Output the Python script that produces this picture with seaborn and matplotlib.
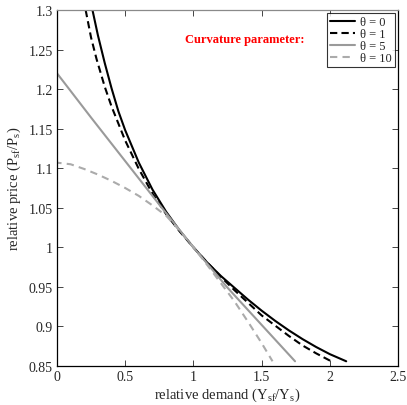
import numpy as np
import pandas as pd
import seaborn as sns
import matplotlib.pyplot as plt

# curves: relative demand (x) vs relative price (y)
x_t0 = [0.26, 0.30, 0.35, 0.40, 0.45, 0.50, 0.60, 0.70, 0.80, 0.90, 1.00,
        1.10, 1.20, 1.30, 1.40, 1.50, 1.60, 1.70, 1.80, 1.90, 2.00, 2.12]
y_t0 = [1.300, 1.268, 1.233, 1.201, 1.172, 1.148, 1.107, 1.073, 1.045, 1.021, 1.000,
        0.981, 0.964, 0.949, 0.934, 0.920, 0.907, 0.895, 0.884, 0.874, 0.865, 0.856]

x_t1 = [0.21, 0.25, 0.29, 0.35, 0.40, 0.50, 0.60, 0.70, 0.80, 0.90, 1.00,
        1.10, 1.20, 1.30, 1.40, 1.50, 1.60, 1.70, 1.80, 1.90, 2.01]
y_t1 = [1.300, 1.265, 1.238, 1.203, 1.178, 1.135, 1.099, 1.068, 1.042, 1.020, 1.000,
        0.981, 0.963, 0.946, 0.930, 0.914, 0.901, 0.888, 0.876, 0.866, 0.856]

x_t5 = [0.0, 0.0, 0.25, 0.50, 0.75, 1.00, 1.25, 1.50, 1.745]
y_t5 = [1.300, 1.220, 1.164, 1.109, 1.054, 1.000, 0.949, 0.902, 0.856]

x_t10 = [0.0, 0.0, 0.10, 0.20, 0.30, 0.40, 0.50, 0.60, 0.70, 0.80, 0.90, 1.00,
         1.10, 1.20, 1.30, 1.40, 1.50, 1.58]
y_t10 = [1.300, 1.107, 1.105, 1.099, 1.092, 1.084, 1.075, 1.065, 1.053, 1.040, 1.021, 1.000,
         0.978, 0.955, 0.932, 0.906, 0.879, 0.856]

labels = ['θ = 0', 'θ = 1', 'θ = 5', 'θ = 10']
xs = [x_t0, x_t1, x_t5, x_t10]
ys = [y_t0, y_t1, y_t5, y_t10]

frames = []
for lab, xv, yv in zip(labels, xs, ys):
    frames.append(pd.DataFrame({'demand': xv, 'price': yv, 'theta': lab}))
df = pd.concat(frames, ignore_index=True)

sns.set_style('ticks')
plt.rcParams['font.family'] = ['Liberation Serif', 'DejaVu Serif']
plt.rcParams['mathtext.fontset'] = 'custom'
plt.rcParams['mathtext.rm'] = 'Liberation Serif'

fig = plt.figure(figsize=(4.07, 4.06), dpi=100)
ax = fig.add_axes([0.140, 0.096, 0.838, 0.877])

palette = {'θ = 0': 'black', 'θ = 1': 'black', 'θ = 5': '#9a9a9a', 'θ = 10': '#ababab'}
dashes = {'θ = 0': '', 'θ = 1': (3.5, 2.0), 'θ = 5': '', 'θ = 10': (3.5, 2.5)}

for lab in labels:
    sub = df[df['theta'] == lab]
    sns.lineplot(data=sub, x='demand', y='price', ax=ax, sort=False, estimator=None,
                 color=palette[lab], lw=1.5, label=lab)
for line, lab in zip(ax.get_lines(), labels):
    if dashes[lab]:
        line.set_dashes(dashes[lab])

ax.set_xlim(0, 2.5)
ax.set_ylim(0.85, 1.3)
ax.set_xticks([0, 0.5, 1, 1.5, 2, 2.5])
ax.set_xticklabels(['0', '0.5', '1', '1.5', '2', '2.5'])
ax.set_yticks([0.85, 0.9, 0.95, 1, 1.05, 1.1, 1.15, 1.2, 1.25, 1.3])
ax.set_yticklabels(['0.85', '0.9', '0.95', '1', '1.05', '1.1', '1.15', '1.2', '1.25', '1.3'])
ax.tick_params(direction='in', length=4, width=0.6, labelsize=10, top=True, right=True, pad=3)
for s in ax.spines.values():
    s.set_linewidth(0.9)
    s.set_color('black')
ax.spines['top'].set_color('#8a8a8a')

ax.set_xlabel(r'relative demand (Y$_{\rm sf}$/Y$_{\rm s}$)', fontsize=10.5, labelpad=2)
ax.set_ylabel(r'relative price (P$_{\rm sf}$/P$_{\rm s}$)', fontsize=10.5, labelpad=4)

ax.text(1.38, 1.263, 'Curvature parameter:', color='red', fontsize=9,
        fontweight='bold', ha='center', va='center')

leg = ax.legend(loc='upper right', fontsize=9, frameon=True, fancybox=False,
                edgecolor='black', borderaxespad=0.25, handlelength=2.0,
                handletextpad=0.4, labelspacing=0.0, borderpad=0.25)
leg.get_frame().set_linewidth(0.8)

fig.savefig('out.png', dpi=100)
